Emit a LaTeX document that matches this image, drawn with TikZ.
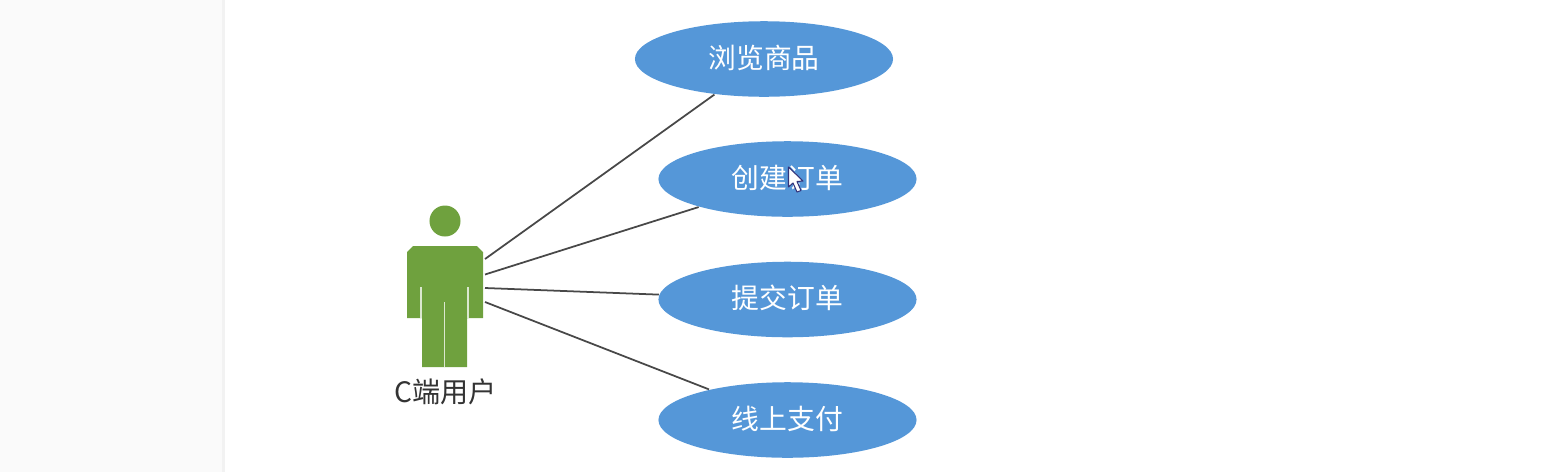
\documentclass[tikz,border=0pt]{standalone}
\usepackage{fontspec}
\setmainfont{Noto Sans CJK SC}
\usetikzlibrary{shapes.geometric}

\definecolor{caseblue}{HTML}{5597D8}
\definecolor{actorgreen}{HTML}{6FA13E}
\definecolor{linkgray}{HTML}{484848}

\newcommand{\casetext}[1]{\raisebox{0.4pt}[\height][\depth]{#1}}

\begin{document}
\begin{tikzpicture}[
    x=0.01cm,
    y=-0.01cm,
    usecase/.style={ellipse, fill=caseblue, text=white, minimum width=2.58cm, minimum height=0.755cm, inner sep=0pt, font=\fontsize{7.9pt}{9pt}\selectfont},
    link/.style={draw=linkgray, line width=0.5pt},
    gap/.style={draw=white!75!actorgreen, line width=0.45pt},
]
  \useasboundingbox (0,0) rectangle (1554,472);

  % side panel
  \fill[black!2] (0,0) rectangle (222,472);
  \fill[black!5] (222,0) rectangle (225,472);

  % use cases
  \node[usecase] (browse) at (764,59) {\casetext{浏览商品}};
  \node[usecase] (create) at (787.5,179) {\casetext{创建订单}};
  \node[usecase] (submit) at (787.5,299.5) {\casetext{提交订单}};
  \node[usecase] (pay) at (787.5,420) {\casetext{线上支付}};

  % actor
  \node[circle, fill=actorgreen, minimum size=0.31cm, inner sep=0pt] (head) at (445,221) {};
  \fill[actorgreen] (413,246) -- (477,246) -- (483,252) -- (483,318) -- (467,318) -- (467,367)
    -- (422,367) -- (422,318) -- (407,318) -- (407,252) -- cycle;
  \draw[gap] (421,287) -- (421,318);
  \draw[gap] (468,287) -- (468,318);
  \draw[gap] (444.5,302) -- (444.5,367);
  \node[text=black!80, font=\fontsize{8pt}{9pt}\selectfont, inner sep=0pt] (userlabel) at (445.5,392) {C端用户};

  \coordinate (hand1) at (485,259);
  \coordinate (hand2) at (485,274.5);
  \coordinate (hand3) at (485,288);
  \coordinate (hand4) at (485,302);

  \draw[link] (hand1) -- (browse);
  \draw[link] (hand2) -- (create);
  \draw[link] (hand3) -- (submit);
  \draw[link] (hand4) -- (pay);

  % mouse pointer
  \filldraw[fill=white, draw=blue!35!black!80, line width=0.3pt, line join=round] (788.5,167) -- (788.5,187) -- (793,183)
    -- (797,192) -- (801,190.5) -- (797,181.5) -- (803,181) -- cycle;
\end{tikzpicture}
\end{document}
